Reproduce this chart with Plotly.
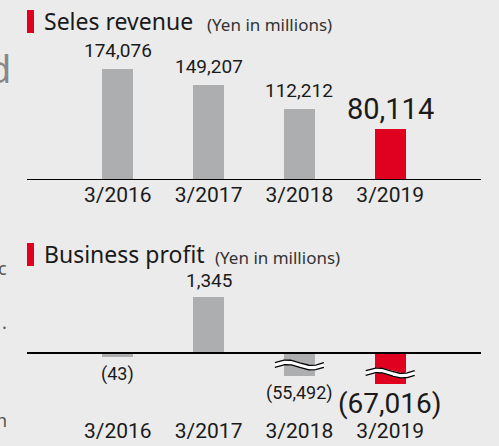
import numpy as np
import plotly.graph_objects as go

# ---------------- data ----------------
years = ["3/2016", "3/2017", "3/2018", "3/2019"]
revenue = [174076, 149207, 112212, 80114]
revenue_labels = ["174,076", "149,207", "112,212", "80,114"]

profit = [-43, 1345, -55492, -67016]
profit_labels = ["(43)", "1,345", "(55,492)", "(67,016)"]
# bar lengths as drawn on the broken axis
profit_drawn = [-100, 1345, -552, -745]
profit_broken = [False, False, True, True]
break_pos = [0, 0, -288, -480]

GRAY = "#adaeb0"
RED = "#e00020"
BG = "#ebebeb"
W, H = 499, 446
NUM_FONT = "Roboto, Arial, sans-serif"
TITLE_FONT = "Noto Sans, Open Sans, sans-serif"

colors = [GRAY, GRAY, GRAY, RED]
xs = list(range(len(years)))

def px_x(p):
    return p / W

def px_y(p):
    return (H - p) / H

fig = go.Figure()
fig.add_trace(go.Bar(x=xs, y=revenue, marker=dict(color=colors, line=dict(width=0)),
                     width=0.34, xaxis="x", yaxis="y", showlegend=False, hoverinfo="skip"))
fig.add_trace(go.Bar(x=xs, y=profit_drawn, marker=dict(color=colors, line=dict(width=0)),
                     width=0.34, xaxis="x2", yaxis="y2", showlegend=False, hoverinfo="skip",
                     customdata=profit))

# break marks on broken bars
t = np.linspace(0, 1, 60)
for i, b in enumerate(profit_broken):
    if not b:
        continue
    xx = i - 0.27 + 0.54 * t
    yy = break_pos[i] + 65 * np.sin(2 * np.pi * t)
    fig.add_trace(go.Scatter(x=xx, y=yy, mode="lines", line=dict(color="white", width=5),
                             xaxis="x2", yaxis="y2", showlegend=False, hoverinfo="skip"))
    for off in (-55, 55):
        fig.add_trace(go.Scatter(x=xx, y=yy + off, mode="lines", line=dict(color="black", width=1.3),
                                 xaxis="x2", yaxis="y2", showlegend=False, hoverinfo="skip"))

top_units_per_px = 1570.0
bot_units_per_px = 24.02

axis_common = dict(showgrid=False, zeroline=False, showline=False, ticks="",
                   tickmode="array", tickvals=xs, ticktext=years, range=[-1, 4],
                   domain=[px_x(27), px_x(481)], fixedrange=True, automargin=False,
                   tickfont=dict(family=NUM_FONT, size=21, color="#1a1a1a"))
fig.update_layout(
    width=W, height=H, margin=dict(l=0, r=0, t=0, b=0, autoexpand=False),
    paper_bgcolor=BG, plot_bgcolor=BG,
    xaxis=dict(anchor="y", **axis_common),
    yaxis=dict(domain=[px_y(180), px_y(40)], range=[0, 140 * top_units_per_px], automargin=False,
               showgrid=False, zeroline=False, showticklabels=False, fixedrange=True),
    xaxis2=dict(anchor="y2", **axis_common),
    yaxis2=dict(domain=[px_y(416), px_y(280)], automargin=False,
                range=[-(416 - 353) * bot_units_per_px, (353 - 280) * bot_units_per_px],
                showgrid=False, zeroline=False, showticklabels=False, fixedrange=True),
    bargap=0,
)

# axis base lines
fig.add_shape(type="line", xref="x", yref="y", x0=-1, x1=4, y0=0, y1=0,
              line=dict(color="black", width=2), layer="above")
fig.add_shape(type="line", xref="x2", yref="y2", x0=-1, x1=4, y0=0, y1=0,
              line=dict(color="black", width=2), layer="above")

# value labels - top
for i, (v, lab) in enumerate(zip(revenue, revenue_labels)):
    big = i == len(years) - 1
    fig.add_annotation(x=i, y=v, xref="x", yref="y", text=lab, showarrow=False,
                       yanchor="bottom", yshift=5 if not big else 1,
                       font=dict(family=NUM_FONT, size=29 if big else 19, color="#1a1a1a"))
# value labels - bottom
for i, (v, lab) in enumerate(zip(profit_drawn, profit_labels)):
    big = i == len(years) - 1
    if v >= 0:
        fig.add_annotation(x=i, y=v, xref="x2", yref="y2", text=lab, showarrow=False,
                           yanchor="bottom", yshift=3,
                           font=dict(family=NUM_FONT, size=19, color="#1a1a1a"))
    else:
        fig.add_annotation(x=i, y=v, xref="x2", yref="y2", text=lab, showarrow=False,
                           yanchor="top", yshift=-4 if not big else -1,
                           font=dict(family=NUM_FONT, size=28 if big else 18, color="#1a1a1a"))

# titles
for (ytop, ybot, title, tx_end, unit_y, ty) in [(10, 33, "Seles revenue", 205, 24, 21),
                                              (243, 266, "Business profit", 213, 257, 254)]:
    fig.add_shape(type="rect", xref="paper", yref="paper", x0=px_x(27), x1=px_x(34),
                  y0=px_y(ybot), y1=px_y(ytop), fillcolor=RED, line=dict(width=0))
    fig.add_annotation(x=px_x(42), y=px_y(ty), xref="paper", yref="paper", text=title,
                       showarrow=False, xanchor="left", yanchor="middle",
                       font=dict(family=TITLE_FONT, size=23, color="#1a1a1a"))
    fig.add_annotation(x=px_x(tx_end), y=px_y(unit_y), xref="paper", yref="paper",
                       text="(Yen in millions)", showarrow=False, xanchor="left", yanchor="middle",
                       font=dict(family=TITLE_FONT, size=17, color="#333333"))

# clipped neighbouring text at the left edge
for txt, yy, sz in [("d", 68, 38), ("c", 268, 18), (".", 322, 18), ("n", 420, 18)]:
    fig.add_annotation(x=px_x(13 if txt == "d" else 9), y=px_y(yy), xref="paper", yref="paper",
                       text=txt, showarrow=False, xanchor="right", yanchor="middle",
                       font=dict(family=TITLE_FONT, size=sz, color="#888888" if txt == "d" else "#555555"))

fig.write_html("out.html", config={"displayModeBar": False},
               post_script="document.body.style.margin='0';document.body.style.padding='0';"
                           "document.body.style.background='#ebebeb';"
                           "document.documentElement.style.overflow='hidden';")
